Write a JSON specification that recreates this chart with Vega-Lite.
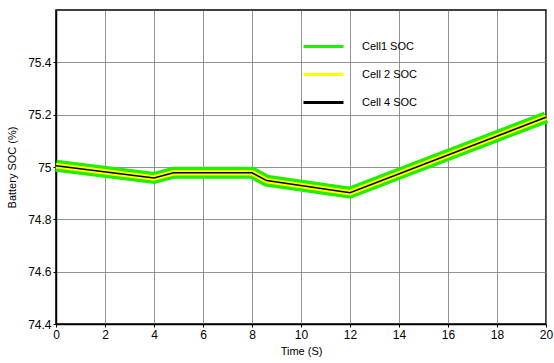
{
  "$schema": "https://vega.github.io/schema/vega-lite/v6.json",
  "width": 490,
  "height": 314,
  "autosize": {"type": "none"},
  "padding": {"left": 56, "top": 10, "right": 8, "bottom": 39},
  "background": "white",
  "config": {
    "view": {"stroke": "#000", "strokeWidth": 1.5},
    "font": "Liberation Sans",
    "axis": {
      "labelFont": "Liberation Sans",
      "titleFont": "Liberation Sans",
      "labelFontSize": 12,
      "titleFontSize": 11,
      "titleFontWeight": "normal",
      "labelColor": "#000",
      "titleColor": "#000",
      "gridColor": "#777",
      "gridWidth": 0.8,
      "gridOpacity": 1,
      "domainColor": "#000",
      "domainWidth": 1.5,
      "tickColor": "#000",
      "tickSize": 3
    }
  },
  "data": {
    "values": [
      {"t": 0, "soc": 75.005, "cell": "Cell1 SOC"},
      {"t": 4, "soc": 74.958, "cell": "Cell1 SOC"},
      {"t": 4.8, "soc": 74.978, "cell": "Cell1 SOC"},
      {"t": 8, "soc": 74.978, "cell": "Cell1 SOC"},
      {"t": 8.6, "soc": 74.948, "cell": "Cell1 SOC"},
      {"t": 12, "soc": 74.902, "cell": "Cell1 SOC"},
      {"t": 20, "soc": 75.19, "cell": "Cell1 SOC"},
      {"t": 0, "soc": 75.005, "cell": "Cell 2 SOC"},
      {"t": 4, "soc": 74.958, "cell": "Cell 2 SOC"},
      {"t": 4.8, "soc": 74.978, "cell": "Cell 2 SOC"},
      {"t": 8, "soc": 74.978, "cell": "Cell 2 SOC"},
      {"t": 8.6, "soc": 74.948, "cell": "Cell 2 SOC"},
      {"t": 12, "soc": 74.902, "cell": "Cell 2 SOC"},
      {"t": 20, "soc": 75.19, "cell": "Cell 2 SOC"},
      {"t": 0, "soc": 75.005, "cell": "Cell 4 SOC"},
      {"t": 4, "soc": 74.958, "cell": "Cell 4 SOC"},
      {"t": 4.8, "soc": 74.978, "cell": "Cell 4 SOC"},
      {"t": 8, "soc": 74.978, "cell": "Cell 4 SOC"},
      {"t": 8.6, "soc": 74.948, "cell": "Cell 4 SOC"},
      {"t": 12, "soc": 74.902, "cell": "Cell 4 SOC"},
      {"t": 20, "soc": 75.19, "cell": "Cell 4 SOC"}
    ]
  },
  "encoding": {
    "x": {
      "field": "t", "type": "quantitative",
      "scale": {"domain": [0, 20], "nice": false, "zero": false},
      "axis": {"values": [0,2,4,6,8,10,12,14,16,18,20], "title": "Time (S)", "labelPadding": 2, "titlePadding": 5, "labelFlush": false}
    },
    "y": {
      "field": "soc", "type": "quantitative",
      "scale": {"domain": [74.4, 75.6], "nice": false, "zero": false},
      "axis": {"values": [74.4,74.6,74.8,75,75.2,75.4], "format": ".1~f", "title": "Battery  SOC (%)", "labelPadding": 2, "titlePadding": 10, "labelFlush": false}
    },
    "color": {
      "field": "cell", "type": "nominal",
      "scale": {"domain": ["Cell1 SOC", "Cell 2 SOC", "Cell 4 SOC"], "range": ["#22ee00", "#ffff00", "#000000"]},
      "legend": {
        "title": null,
        "orient": "none",
        "legendX": 246,
        "legendY": 15,
        "symbolType": "stroke",
        "symbolSize": 1600,
        "symbolStrokeWidth": 3,
        "labelFontSize": 11,
        "labelFont": "Liberation Sans",
        "labelColor": "#000",
        "labelOffset": 17,
        "rowPadding": 0,
        "padding": 0
      }
    }
  },
  "layer": [
    {"transform": [{"filter": "datum.cell === 'Cell1 SOC'"}], "mark": {"type": "line", "strokeWidth": 12, "strokeCap": "butt"}},
    {"transform": [{"filter": "datum.cell === 'Cell 2 SOC'"}], "mark": {"type": "line", "strokeWidth": 5.5, "strokeCap": "butt"}},
    {"transform": [{"filter": "datum.cell === 'Cell 4 SOC'"}], "mark": {"type": "line", "strokeWidth": 1.5, "strokeCap": "butt"}}
  ]
}
